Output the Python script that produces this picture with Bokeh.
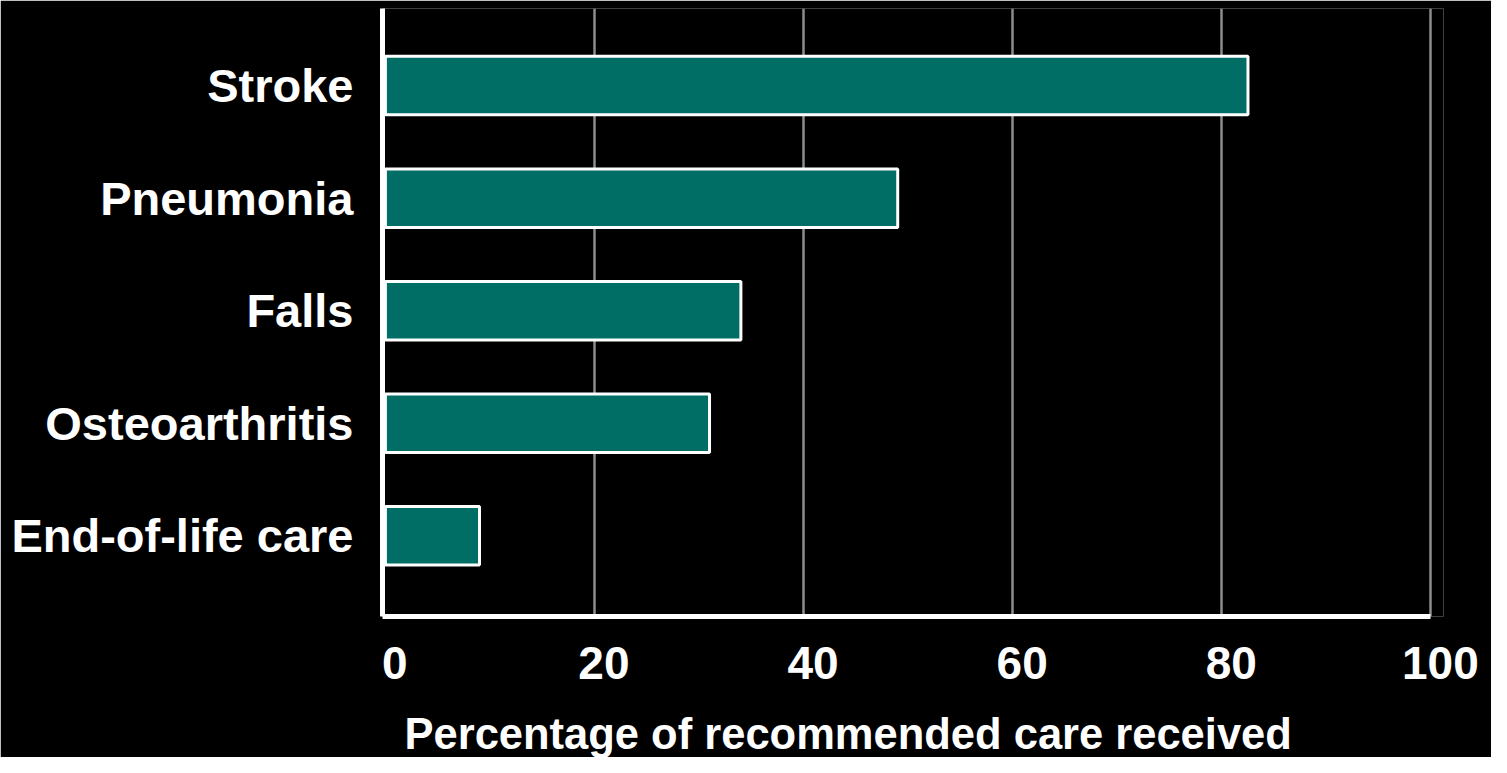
from bokeh.plotting import figure
from bokeh.models import Range1d, FixedTicker, LinearAxis, Title
from bokeh.embed import file_html
from bokeh.resources import INLINE

categories = ["Stroke", "Pneumonia", "Falls", "Osteoarthritis", "End-of-life care"]
values = [82.5, 49, 34, 31, 9]
x_ticks = [0, 20, 40, 60, 80, 100]
x_tick_labels = ["0", "20", "40", "60", "80", "100"]
x_title = "Percentage of recommended care received"

FONT = "Liberation Sans"
ypos = list(range(len(categories) - 1, -1, -1))  # Stroke on top

X0, X1 = -0.277, 101.2
SHIFT = 0.9  # tick labels sit a little right of their gridlines

p = figure(width=1491, height=757, output_backend="svg", toolbar_location=None,
           x_range=Range1d(X0, X1), y_range=Range1d(-0.717, 4.685),
           min_border_left=382, min_border_right=48, min_border_top=8, min_border_bottom=140)
p.background_fill_color = "black"
p.border_fill_color = "black"
p.outline_line_color = None

p.hbar(y=ypos, left=0, right=values, height=0.52,
       fill_color="#006E64", line_color="white", line_width=3)

# main x axis: the white base line only
xa = p.xaxis[0]
xa.ticker = FixedTicker(ticks=[])
xa.bounds = (X0, x_ticks[-1])
xa.axis_line_color = "white"
xa.axis_line_width = 5
xa.major_tick_line_color = None
xa.minor_tick_line_color = None
xa.major_tick_out = 0
xa.minor_tick_out = 0
xa.major_label_standoff = 0

# label axis
p.extra_x_ranges = {"lab": Range1d(X0 - SHIFT, X1 - SHIFT)}
la = LinearAxis(x_range_name="lab", ticker=FixedTicker(ticks=x_ticks))
la.major_label_overrides = {t: s for t, s in zip(x_ticks, x_tick_labels)}
la.axis_line_color = None
la.major_tick_line_color = None
la.minor_tick_line_color = None
la.major_tick_out = 0
la.minor_tick_out = 0
la.major_label_text_color = "white"
la.major_label_text_font = FONT
la.major_label_text_font_style = "bold"
la.major_label_text_font_size = "46px"
la.major_label_standoff = 30
p.add_layout(la, "below")

# invisible spacer between tick labels and title
sp = LinearAxis(x_range_name="lab", ticker=FixedTicker(ticks=[50]))
sp.major_label_overrides = {50: ""}
sp.axis_line_color = None
sp.major_tick_line_color = None
sp.minor_tick_line_color = None
sp.major_tick_in = 0
sp.major_tick_out = 26
sp.minor_tick_out = 0
sp.major_label_standoff = 0
sp.major_label_text_font_size = "1px"
sp.major_label_text_color = None
p.add_layout(sp, "below")

# y axis
ya = p.yaxis[0]
ya.ticker = FixedTicker(ticks=ypos)
ya.major_label_overrides = {y: c for y, c in zip(ypos, categories)}
ya.axis_line_color = "white"
ya.axis_line_width = 5
ya.major_tick_line_color = None
ya.minor_tick_line_color = None
ya.major_label_text_color = "white"
ya.major_label_text_font = FONT
ya.major_label_text_font_style = "bold"
ya.major_label_text_font_size = "47px"
ya.major_label_standoff = 23

p.xgrid.ticker = FixedTicker(ticks=[t for t in x_ticks if t > 0])
p.xgrid.grid_line_color = "#8c8c8c"
p.xgrid.grid_line_width = 2.5
p.ygrid.grid_line_color = None

p.add_layout(Title(text=x_title, align="left", offset=22, standoff=0,
                   text_color="white", text_font=FONT, text_font_style="bold",
                   text_font_size="43.5px"), "below")

open("out.html", "w").write(file_html(p, INLINE))
